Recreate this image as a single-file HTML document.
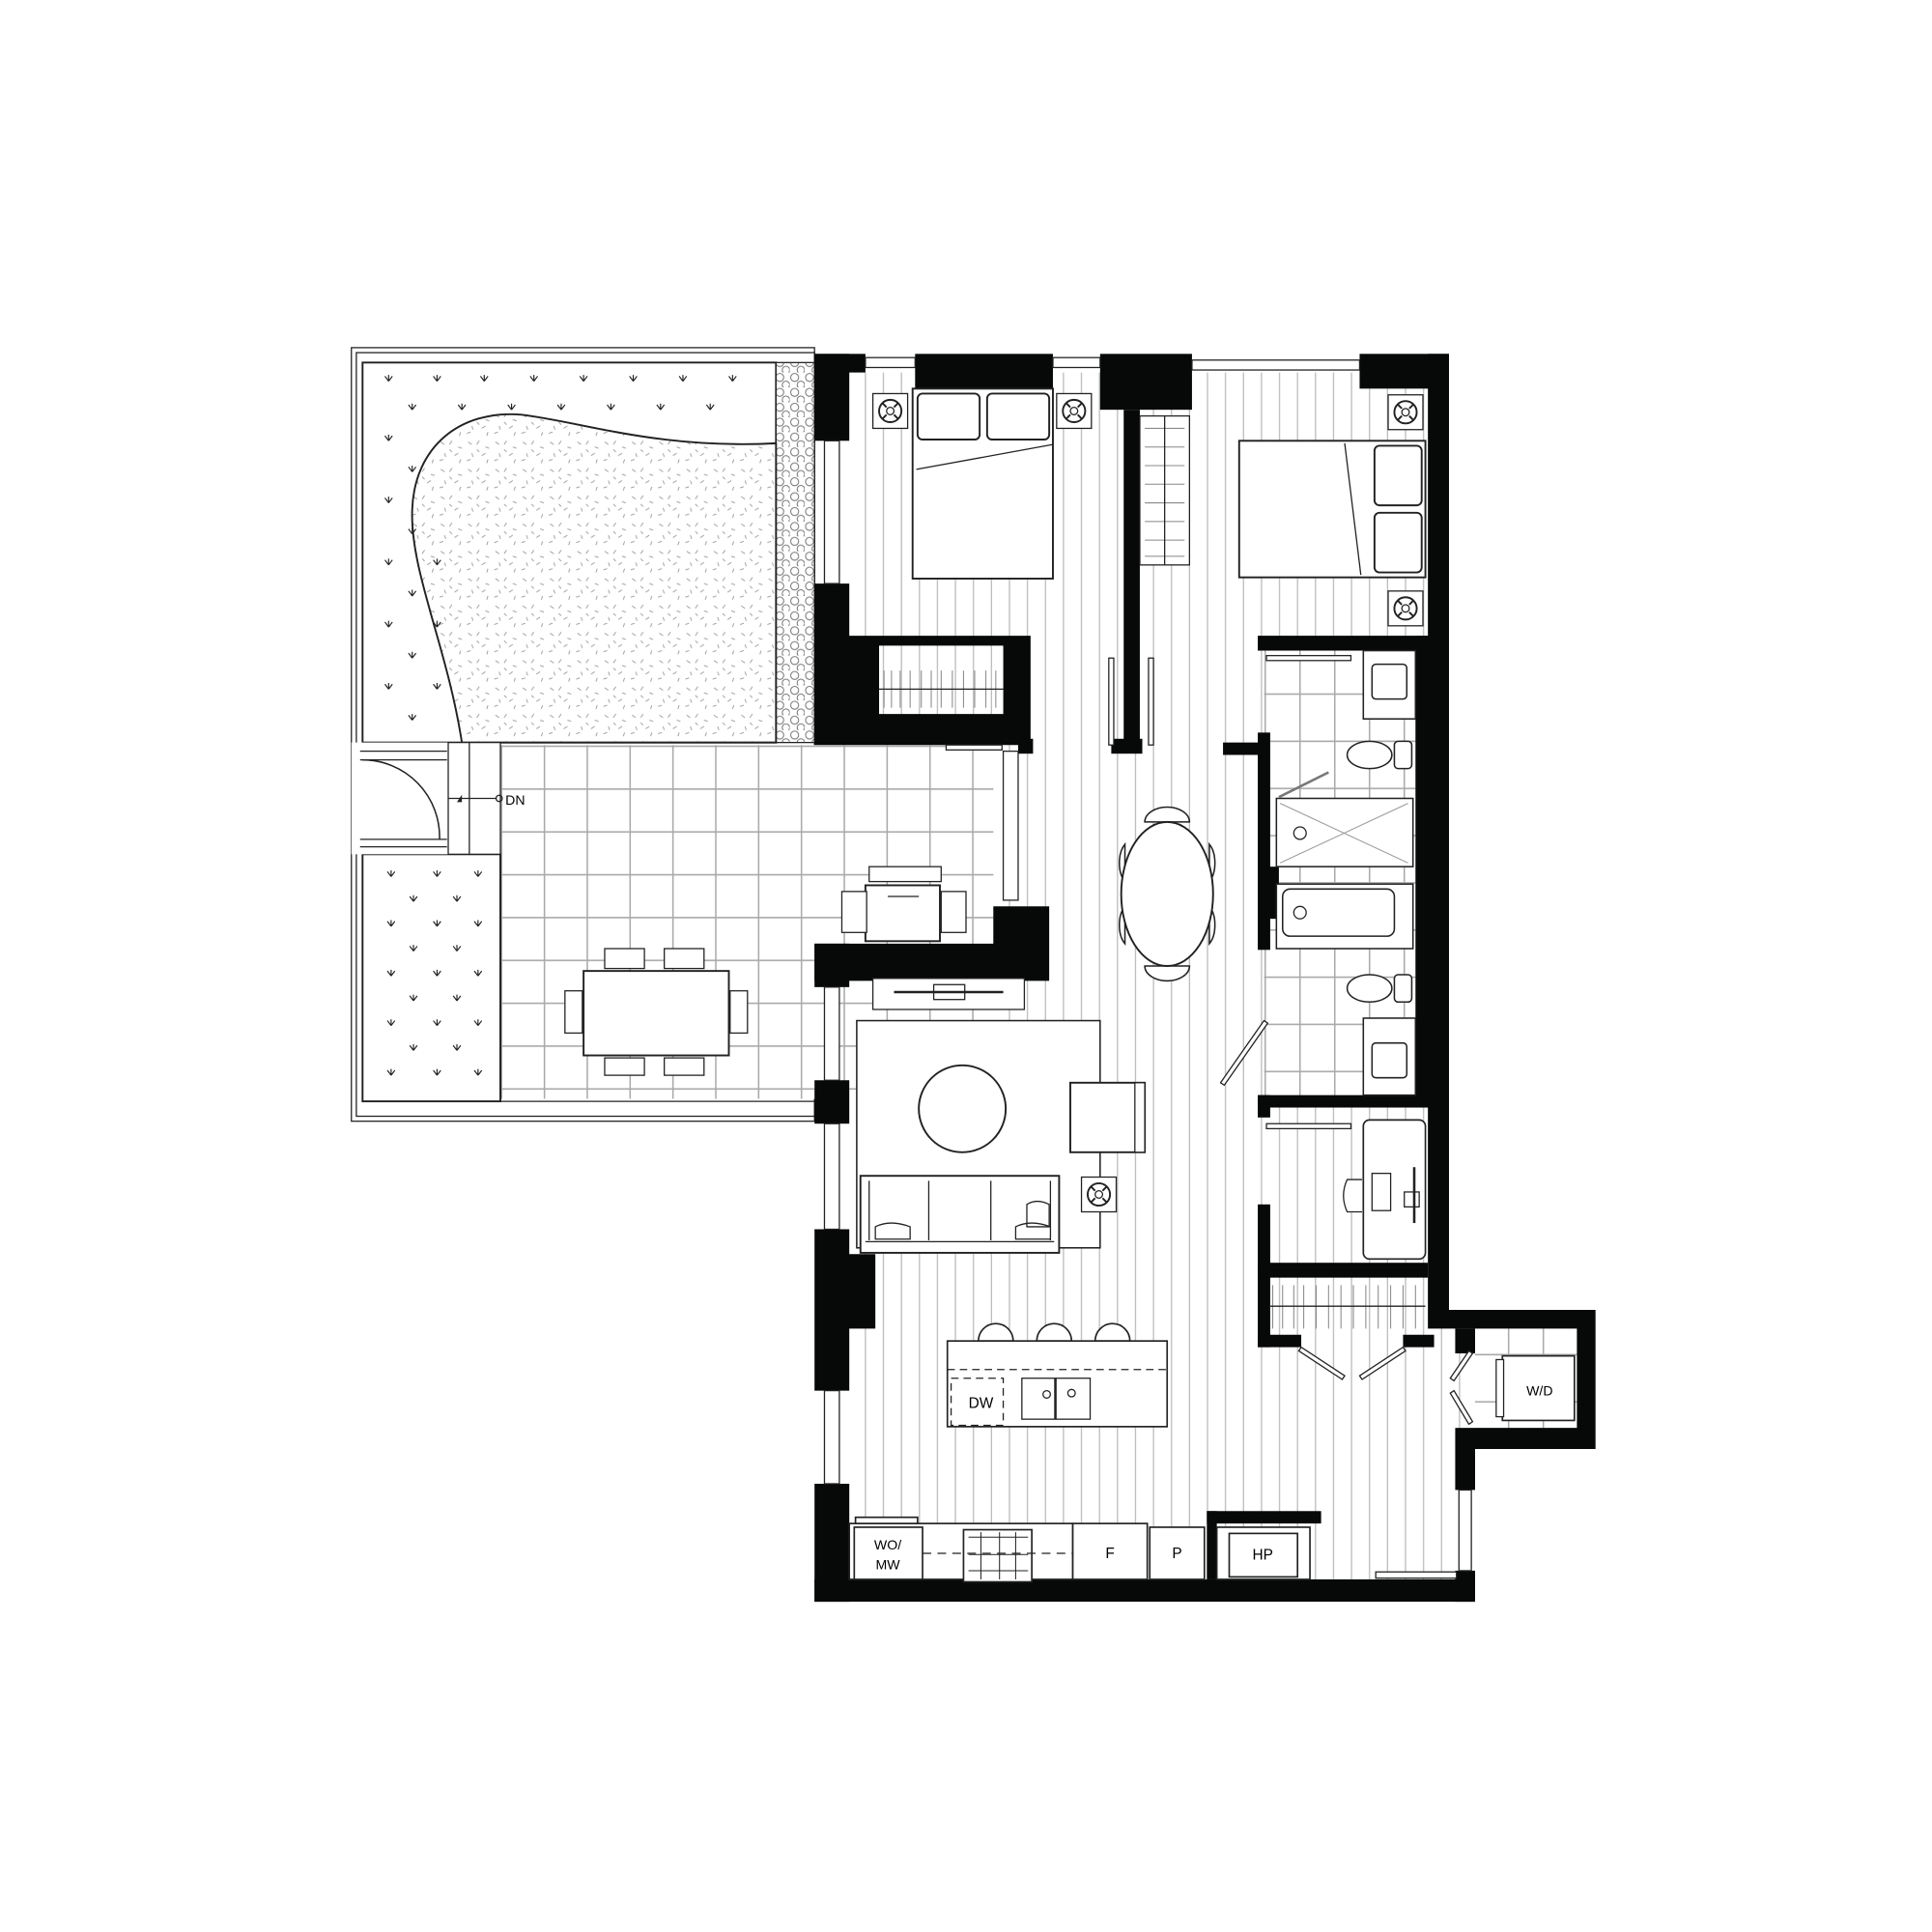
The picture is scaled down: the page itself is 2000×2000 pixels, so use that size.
<!DOCTYPE html>
<html><head><meta charset="utf-8"><style>html,body{margin:0;padding:0;background:#fff}svg{display:block}</style></head><body>
<svg width="2000" height="2000" viewBox="0 0 1556 1556" xmlns="http://www.w3.org/2000/svg" font-family="Liberation Sans, sans-serif">
<defs>
<pattern id="st" width="14.5" height="20" patternUnits="userSpaceOnUse"><rect width="14.5" height="20" fill="#fff"/><line x1="1" y1="0" x2="1" y2="20" stroke="#bbb" stroke-width="1"/></pattern>
<pattern id="tl" width="34.5" height="34.5" patternUnits="userSpaceOnUse" x="403" y="600"><rect width="34.5" height="34.5" fill="#fff"/><path d="M0 1H34.5M1 0V34.5" stroke="#aaa" stroke-width="1.2"/></pattern>
<pattern id="bt" width="28" height="38" patternUnits="userSpaceOnUse" x="1018" y="520"><rect width="28" height="38" fill="#fff"/><path d="M0 1H28M1 0V38" stroke="#aaa" stroke-width="1.2"/></pattern>
<pattern id="gr" width="22" height="22" patternUnits="userSpaceOnUse"><rect width="22" height="22" fill="#fff"/><path d="M3 4l3 2M12 3l-2 3M17 8l3 1M6 13l1 3M14 15l3-2M2 19l3-1M10 10l2 2M19 18l-1 3" stroke="#999" stroke-width="0.7"/></pattern>
<pattern id="pb" width="12" height="12" patternUnits="userSpaceOnUse"><rect width="12" height="12" fill="#fff"/><circle cx="4" cy="4" r="3.2" fill="none" stroke="#777" stroke-width="0.8"/><circle cx="9" cy="10" r="3" fill="none" stroke="#777" stroke-width="0.8"/></pattern>
<g id="pl"><path d="M0 0l-3 -4M0 0l3 -4M0 0v-5" stroke="#222" stroke-width="0.9" fill="none"/></g>
<g id="lamp"><rect x="-14" y="-14" width="28" height="28" fill="#fff" stroke="#222"/><circle r="9" fill="none" stroke="#222" stroke-width="1.5"/><circle r="3" fill="none" stroke="#222"/><path d="M-6-6l3 3M6-6l-3 3M-6 6l3-3M6 6l-3-3" stroke="#222" stroke-width="1.5"/></g>
</defs>
<rect width="1556" height="1556" fill="#fff"/>

<polygon points="684,300 1150,300 1150,1055 1270,1055 1270,1150 1188,1150 1188,1272 684,1272" fill="url(#st)"/>

<rect x="283" y="280" width="373" height="623" fill="#fff" stroke="#222" stroke-width="1"/>
<rect x="287" y="284" width="369" height="615" fill="none" stroke="#222" stroke-width="1"/>
<rect x="403" y="600" width="397" height="285" fill="url(#tl)"/>
<rect x="656" y="600" width="144" height="160" fill="url(#tl)"/>
<rect x="1018" y="520" width="122" height="365" fill="url(#bt)"/>
<rect x="1188" y="1070" width="82" height="80" fill="url(#bt)"/>
<rect x="292" y="292" width="333" height="306" fill="#fff" stroke="#222" stroke-width="1.5"/>
<rect x="625" y="292" width="31" height="306" fill="url(#pb)" stroke="#222"/>
<path d="M372 598 C 360 520 330 460 332 410 C 334 360 370 330 420 334 C 470 340 530 362 625 357 L625 598 Z" fill="url(#gr)" stroke="#222" stroke-width="1.5"/>
<g>
<use href="#pl" x="313" y="307"/><use href="#pl" x="352" y="307"/><use href="#pl" x="390" y="307"/><use href="#pl" x="430" y="307"/><use href="#pl" x="470" y="307"/><use href="#pl" x="510" y="307"/><use href="#pl" x="550" y="307"/><use href="#pl" x="590" y="307"/>
<use href="#pl" x="332" y="330"/><use href="#pl" x="372" y="330"/><use href="#pl" x="412" y="330"/><use href="#pl" x="452" y="330"/><use href="#pl" x="492" y="330"/><use href="#pl" x="532" y="330"/><use href="#pl" x="572" y="330"/>
<use href="#pl" x="313" y="355"/><use href="#pl" x="313" y="405"/><use href="#pl" x="313" y="455"/><use href="#pl" x="313" y="505"/><use href="#pl" x="313" y="555"/>
<use href="#pl" x="332" y="380"/><use href="#pl" x="332" y="430"/><use href="#pl" x="332" y="480"/><use href="#pl" x="332" y="530"/><use href="#pl" x="332" y="580"/>
<use href="#pl" x="352" y="455"/><use href="#pl" x="352" y="505"/><use href="#pl" x="352" y="555"/>
</g>
<rect x="292" y="688" width="111" height="199" fill="#fff" stroke="#222" stroke-width="1.5"/>
<g>
<use href="#pl" x="315" y="706"/><use href="#pl" x="352" y="706"/><use href="#pl" x="385" y="706"/>
<use href="#pl" x="333" y="726"/><use href="#pl" x="368" y="726"/>
<use href="#pl" x="315" y="746"/><use href="#pl" x="352" y="746"/><use href="#pl" x="385" y="746"/>
<use href="#pl" x="333" y="766"/><use href="#pl" x="368" y="766"/>
<use href="#pl" x="315" y="786"/><use href="#pl" x="352" y="786"/><use href="#pl" x="385" y="786"/>
<use href="#pl" x="333" y="806"/><use href="#pl" x="368" y="806"/>
<use href="#pl" x="315" y="826"/><use href="#pl" x="352" y="826"/><use href="#pl" x="385" y="826"/>
<use href="#pl" x="333" y="846"/><use href="#pl" x="368" y="846"/>
<use href="#pl" x="315" y="866"/><use href="#pl" x="352" y="866"/><use href="#pl" x="385" y="866"/>
</g>
<line x1="292" y1="887" x2="656" y2="887" stroke="#222"/>
<rect x="283" y="598" width="78" height="90" fill="#fff"/>
<path d="M290 605 H360 M290 612 H360 M290 682 H360 M290 676 H360" stroke="#222"/>
<path d="M292 612 A 62 62 0 0 1 354 676" fill="none" stroke="#222" stroke-width="1.2"/>
<rect x="361" y="598" width="42" height="90" fill="#fff" stroke="#222"/>
<line x1="378" y1="598" x2="378" y2="688" stroke="#222"/>
<line x1="361" y1="643" x2="400" y2="643" stroke="#222"/>
<circle cx="402" cy="643" r="2.5" fill="none" stroke="#222"/>
<path d="M368 646 l4 -6 v6z" fill="#222"/>
<text x="407" y="648" font-size="11">DN</text>
<rect x="470" y="782" width="117" height="68" fill="#fff" stroke="#222" stroke-width="1.5"/>
<rect x="487" y="764" width="32" height="16" fill="#fff" stroke="#222"/><rect x="535" y="764" width="32" height="16" fill="#fff" stroke="#222"/>
<rect x="487" y="852" width="32" height="14" fill="#fff" stroke="#222"/><rect x="535" y="852" width="32" height="14" fill="#fff" stroke="#222"/>
<rect x="455" y="798" width="14" height="34" fill="#fff" stroke="#222"/><rect x="588" y="798" width="14" height="34" fill="#fff" stroke="#222"/>
<rect x="700" y="698" width="58" height="12" fill="#fff" stroke="#222"/>
<rect x="697" y="713" width="60" height="45" fill="#fff" stroke="#222" stroke-width="1.5"/>
<rect x="678" y="718" width="20" height="33" fill="#fff" stroke="#222"/><rect x="758" y="718" width="20" height="33" fill="#fff" stroke="#222"/>
<line x1="715" y1="722" x2="740" y2="722" stroke="#222"/>

<g fill="#070909">
<rect x="656" y="285" width="41" height="15"/>
<rect x="656" y="285" width="28" height="70"/>
<rect x="737" y="285" width="111" height="28"/>
<rect x="886" y="285" width="74" height="45"/>
<rect x="1095" y="285" width="72" height="28"/>
<rect x="1150" y="285" width="17" height="770"/>
<rect x="1140" y="512" width="27" height="380"/>
<polygon points="656,470 684,470 684,512 830,512 830,600 808,600 808,520 708,520 708,575 808,575 808,600 656,600"/>
<rect x="905" y="330" width="13" height="275"/>
<rect x="895" y="595" width="25" height="12"/>
<rect x="820" y="595" width="12" height="12"/>
<polygon points="656,760 800,760 800,730 845,730 845,790 656,790"/>
<rect x="656" y="760" width="28" height="35"/>
<rect x="656" y="870" width="28" height="35"/>
<polygon points="656,990 684,990 684,1010 705,1010 705,1070 684,1070 684,1120 656,1120"/>
<rect x="656" y="1195" width="28" height="95"/>
<rect x="656" y="1272" width="532" height="18"/>
<rect x="1172" y="1265" width="16" height="25"/>
<rect x="1172" y="1150" width="16" height="50"/>
<polygon points="1150,1055 1285,1055 1285,1167 1188,1167 1188,1150 1270,1150 1270,1070 1150,1070"/>
<rect x="1172" y="1070" width="16" height="20"/>
<rect x="1013" y="512" width="137" height="12"/>
<rect x="985" y="598" width="30" height="10"/>
<rect x="1013" y="590" width="10" height="175"/>
<rect x="1022" y="698" width="8" height="42"/>
<rect x="1013" y="882" width="137" height="10"/>
<rect x="1013" y="882" width="10" height="18"/>
<rect x="1013" y="970" width="10" height="115"/>
<rect x="1013" y="1017" width="137" height="12"/>
<rect x="1013" y="1075" width="35" height="10"/>
<rect x="1130" y="1075" width="25" height="10"/>
<rect x="972" y="1217" width="92" height="10"/>
<rect x="972" y="1217" width="8" height="55"/>
</g>
<g fill="#fff" stroke="#222" stroke-width="1">
<rect x="697" y="288" width="40" height="8"/><rect x="848" y="288" width="38" height="8"/><rect x="960" y="290" width="135" height="8"/>
<rect x="664" y="355" width="12" height="115"/>
<rect x="664" y="795" width="12" height="75"/><rect x="664" y="905" width="12" height="85"/><rect x="664" y="1120" width="12" height="75"/>
<rect x="808" y="605" width="12" height="120"/>
<rect x="1175" y="1200" width="10" height="65"/>
</g>
<rect x="918" y="335" width="40" height="120" fill="#fff" stroke="#222"/>
<g stroke="#888" stroke-width="0.8"><path d="M922 345h32M922 360h32M922 375h32M922 390h32M922 405h32M922 420h32M922 435h32M922 448h32"/></g>
<line x1="938" y1="335" x2="938" y2="455" stroke="#222"/>
<g stroke="#888" stroke-width="0.8"><path d="M712 540v30M718 540v30M725 540v30M733 540v30M742 540v30M750 540v30M758 540v30M767 540v30M776 540v30M785 540v30M794 540v30M802 540v30"/></g>
<line x1="708" y1="555" x2="808" y2="555" stroke="#222"/>
<g stroke="#888" stroke-width="0.8"><path d="M1025 1035v35M1033 1035v35M1042 1035v35M1050 1035v35M1060 1035v35M1070 1035v35M1080 1035v35M1090 1035v35M1100 1035v35M1110 1035v35M1120 1035v35M1130 1035v35M1140 1035v35"/></g>
<line x1="1022" y1="1052" x2="1148" y2="1052" stroke="#222"/>
<g stroke="#222" fill="#fff" stroke-width="1">
<rect x="893" y="530" width="4" height="70"/><rect x="925" y="530" width="4" height="70"/>
<path d="M1048 1085 l35 23 l-2 3 l-35 -23z M1130 1085 l-35 23 l2 3 l35 -23z"/>
<path d="M1183 1088 l-15 22 l3 2 l15 -22z M1168 1122 l15 25 l3 -2 l-15 -25z"/>
<path d="M1018 822 l-35 50 l3 2 l35 -50z"/>
<rect x="1020" y="528" width="68" height="4"/><rect x="1020" y="905" width="68" height="4"/>
<rect x="1108" y="1266" width="65" height="5"/>
<rect x="762" y="600" width="45" height="4"/>
</g>
<rect x="735" y="313" width="113" height="153" fill="#fff" stroke="#222" stroke-width="1.5"/>
<rect x="739" y="317" width="50" height="37" rx="4" fill="#fff" stroke="#222" stroke-width="1.5"/>
<rect x="795" y="317" width="50" height="37" rx="4" fill="#fff" stroke="#222" stroke-width="1.5"/>
<line x1="738" y1="378" x2="848" y2="358" stroke="#222"/>
<use href="#lamp" x="717" y="331"/><use href="#lamp" x="865" y="331"/>
<rect x="998" y="355" width="150" height="110" fill="#fff" stroke="#222" stroke-width="1.5"/>
<rect x="1107" y="359" width="38" height="48" rx="4" fill="#fff" stroke="#222" stroke-width="1.5"/>
<rect x="1107" y="413" width="38" height="48" rx="4" fill="#fff" stroke="#222" stroke-width="1.5"/>
<line x1="1083" y1="357" x2="1096" y2="463" stroke="#222"/>
<use href="#lamp" x="1132" y="332"/><use href="#lamp" x="1132" y="490"/>
<g fill="#fff" stroke="#222" stroke-width="1.2">
<path d="M922 662 a18 12 0 0 1 36 0z"/><path d="M922 778 a18 12 0 0 0 36 0z"/>
<path d="M906 680 a10 18 0 0 0 0 30z"/><path d="M906 730 a10 18 0 0 0 0 30z"/>
<path d="M974 680 a10 18 0 0 1 0 30z"/><path d="M974 730 a10 18 0 0 1 0 30z"/>
<ellipse cx="940" cy="720" rx="37" ry="58" stroke-width="1.5"/>
</g>
<rect x="703" y="788" width="122" height="25" fill="#fff" stroke="#222"/>
<rect x="752" y="793" width="25" height="12" fill="#fff" stroke="#222"/><line x1="720" y1="799" x2="808" y2="799" stroke="#222" stroke-width="2"/>
<rect x="690" y="822" width="196" height="183" fill="#fff" stroke="#222" stroke-width="1.2"/>
<circle cx="775" cy="893" r="35" fill="#fff" stroke="#222" stroke-width="1.5"/>
<rect x="862" y="872" width="60" height="56" fill="#fff" stroke="#222" stroke-width="1.5"/>
<rect x="914" y="872" width="8" height="56" fill="#fff" stroke="#222"/>
<use href="#lamp" x="885" y="962"/>
<rect x="693" y="947" width="160" height="62" fill="#fff" stroke="#222" stroke-width="1.5"/>
<path d="M700 951v48M748 951v48M798 951v48M846 951v48M697 1000h152" stroke="#222"/>
<path d="M705 988q12-6 28 0v10h-28zM818 988q12-6 28 0v10h-28zM827 970q8-5 18 0v18h-18z" fill="#fff" stroke="#222"/>
<g fill="#fff" stroke="#222" stroke-width="1.3">
<path d="M788 1080 a14 14 0 0 1 28 0z"/><path d="M835 1080 a14 14 0 0 1 28 0z"/><path d="M882 1080 a14 14 0 0 1 28 0z"/>
<rect x="763" y="1080" width="177" height="69"/>
</g>
<line x1="763" y1="1103" x2="940" y2="1103" stroke="#222" stroke-dasharray="6,4"/>
<rect x="766" y="1110" width="42" height="38" fill="none" stroke="#222" stroke-dasharray="6,4"/>
<text x="780" y="1134" font-size="12">DW</text>
<rect x="823" y="1110" width="55" height="33" fill="#fff" stroke="#222"/><line x1="850" y1="1110" x2="850" y2="1143" stroke="#222" stroke-width="2"/>
<circle cx="843" cy="1123" r="3" fill="none" stroke="#222"/><circle cx="863" cy="1122" r="3" fill="none" stroke="#222"/>
<g fill="#fff" stroke="#222" stroke-width="1.3">
<rect x="684" y="1227" width="180" height="45"/>
<rect x="688" y="1230" width="55" height="42"/>
<rect x="689" y="1222" width="50" height="5"/>
<rect x="776" y="1232" width="55" height="42"/>
<rect x="864" y="1227" width="60" height="45"/>
<rect x="926" y="1230" width="44" height="42"/>
<rect x="980" y="1230" width="75" height="42"/>
<rect x="990" y="1235" width="55" height="35"/>
</g>
<path d="M780 1238h48M780 1252h48M780 1265h48M790 1234v38M805 1234v38M818 1234v38" stroke="#222" stroke-width="0.8"/>
<line x1="743" y1="1251" x2="864" y2="1251" stroke="#222" stroke-dasharray="7,5"/>
<text x="715" y="1248" font-size="11" text-anchor="middle">WO/</text>
<text x="715" y="1264" font-size="11" text-anchor="middle">MW</text>
<text x="894" y="1255" font-size="12" text-anchor="middle">F</text>
<text x="948" y="1255" font-size="12" text-anchor="middle">P</text>
<text x="1017" y="1256" font-size="12" text-anchor="middle">HP</text>
<g fill="#fff" stroke="#222" stroke-width="1.2">
<rect x="1098" y="524" width="42" height="55"/><rect x="1105" y="535" width="28" height="28" rx="3"/>
<rect x="1098" y="820" width="42" height="62"/><rect x="1105" y="840" width="28" height="28" rx="3"/>
<ellipse cx="1103" cy="608" rx="18" ry="11"/><rect x="1123" y="597" width="14" height="22" rx="3"/>
<ellipse cx="1103" cy="796" rx="18" ry="11"/><rect x="1123" y="785" width="14" height="22" rx="3"/>
<rect x="1028" y="643" width="110" height="55"/>
<rect x="1028" y="712" width="110" height="52"/>
<rect x="1033" y="716" width="90" height="38" rx="6"/>
</g>
<path d="M1031 647 L1134 695 M1031 695 L1134 647" stroke="#999" stroke-width="0.8"/>
<circle cx="1047" cy="671" r="5" fill="none" stroke="#222"/><circle cx="1047" cy="735" r="5" fill="none" stroke="#222"/>
<line x1="1030" y1="642" x2="1070" y2="622" stroke="#777" stroke-width="2"/>
<rect x="1098" y="902" width="50" height="112" rx="5" fill="#fff" stroke="#222" stroke-width="1.3"/>
<rect x="1105" y="945" width="15" height="30" fill="none" stroke="#222"/>
<line x1="1139" y1="940" x2="1139" y2="985" stroke="#222" stroke-width="2"/>
<rect x="1131" y="960" width="12" height="12" fill="none" stroke="#222"/>
<path d="M1097 950 h-12 q-6 13 0 26 h12" fill="#fff" stroke="#222"/>
<rect x="1210" y="1092" width="58" height="52" fill="#fff" stroke="#222" stroke-width="1.3"/>
<rect x="1205" y="1095" width="6" height="46" fill="#fff" stroke="#222"/>
<text x="1240" y="1124" font-size="11" text-anchor="middle">W/D</text>
</svg>
</body></html>
